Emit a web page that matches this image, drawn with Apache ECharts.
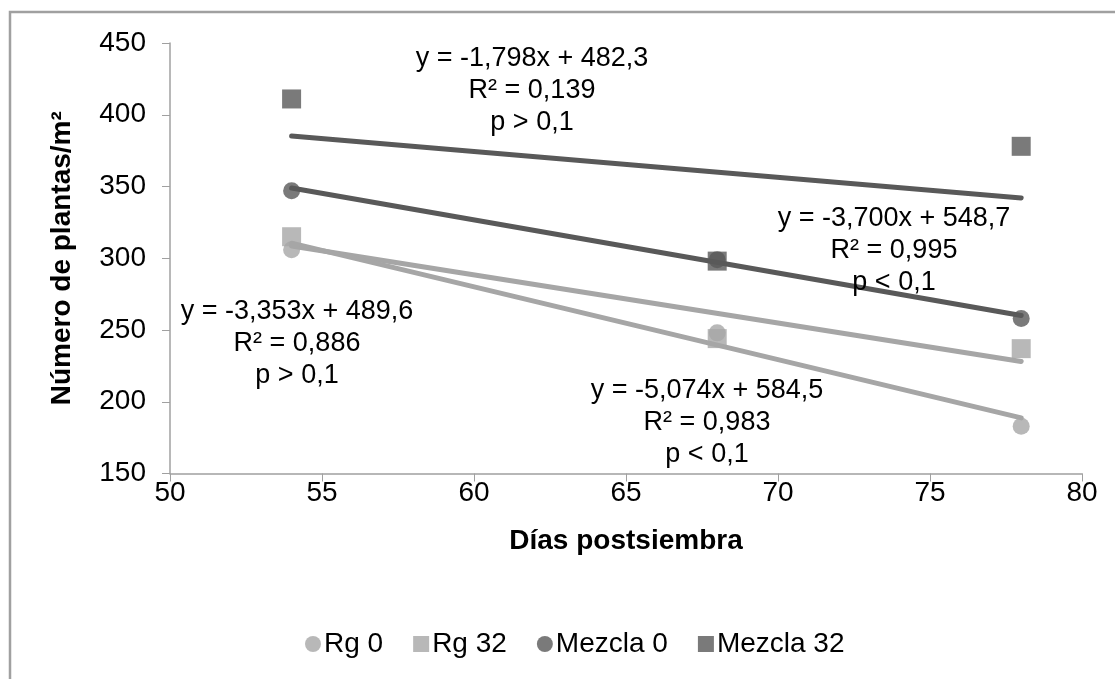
<!DOCTYPE html>
<html>
<head>
<meta charset="utf-8">
<script src="https://cdn.jsdelivr.net/npm/echarts@6/dist/echarts.min.js"></script>
<style>
html,body{margin:0;padding:0;background:#fff;}
#chart{width:1115px;height:679px;}
</style>
</head>
<body>
<div id="chart"></div>
<script>
// Data
const days = [54, 68, 78];
const rg0 = [306, 248, 183];
const rg32 = [315, 244, 237];
const mezcla0 = [347, 299, 258];
const mezcla32 = [411, 298, 378];

// Printed regression coefficients [slope, intercept]
const trendRg0 = [-5.074, 584.5];
const trendRg32 = [-3.353, 489.6];
const trendMezcla0 = [-3.700, 548.7];
const trendMezcla32 = [-1.798, 482.3];

const xTicks = [50, 55, 60, 65, 70, 75, 80];
const yTicks = [150, 200, 250, 300, 350, 400, 450];

const eqMezcla32 = ['y = -1,798x + 482,3', 'R² = 0,139', 'p > 0,1'];
const eqMezcla0 = ['y = -3,700x + 548,7', 'R² = 0,995', 'p < 0,1'];
const eqRg32 = ['y = -3,353x + 489,6', 'R² = 0,886', 'p > 0,1'];
const eqRg0 = ['y = -5,074x + 584,5', 'R² = 0,983', 'p < 0,1'];

const LIGHT = '#a6a6a6';
const DARK = '#595959';
const FONT = 'Liberation Sans, Arial, sans-serif';

function pts(vals) { return days.map((d, i) => [d, vals[i]]); }
function trend(c) {
  const x0 = days[0], x1 = days[days.length - 1];
  return [[x0, c[0] * x0 + c[1]], [x1, c[0] * x1 + c[1]]];
}
function trendSeries(c, color) {
  return {
    type: 'line', data: trend(c), symbol: 'none', silent: true,
    lineStyle: { color: color, width: 5, cap: 'round' }, z: 2
  };
}
function scatter(name, vals, symbol, size, color, z) {
  return {
    name: name, type: 'scatter', data: pts(vals), symbol: symbol, symbolSize: size,
    itemStyle: { color: color }, z: z
  };
}

const chart = echarts.init(document.getElementById('chart'), null, { renderer: 'canvas' });

function eqText(lines, cx, top) {
  return {
    type: 'text', x: 0, y: 0,
    style: {
      x: cx, y: top,
      text: lines.join('\n'), font: '27px ' + FONT, fill: '#000',
      align: 'center', verticalAlign: 'top', lineHeight: 32
    },
    z: 10
  };
}

const option = {
  animation: false,
  backgroundColor: '#fff',
  grid: { left: 170, right: 33, top: 43, bottom: 205.5 },
  xAxis: {
    type: 'value', min: 50, max: 80, interval: 5,
    name: 'Días postsiembra', nameLocation: 'middle', nameGap: 54,
    nameTextStyle: { fontFamily: FONT, fontSize: 28, fontWeight: 'bold', color: '#000' },
    axisLine: { show: true, lineStyle: { color: '#a0a0a0', width: 1.5 } },
    axisTick: { show: true, length: 8, lineStyle: { color: '#a0a0a0' } },
    axisLabel: { fontFamily: FONT, fontSize: 28, color: '#000', margin: 6 },
    splitLine: { show: false }
  },
  yAxis: {
    type: 'value', min: 150, max: 450, interval: 50,
    name: 'Número de plantas/m²', nameLocation: 'middle', nameGap: 94, nameRotate: 90,
    nameTextStyle: { fontFamily: FONT, fontSize: 28, fontWeight: 'bold', color: '#000' },
    axisLine: { show: true, lineStyle: { color: '#a0a0a0', width: 1.5 } },
    axisTick: { show: true, length: 8, lineStyle: { color: '#a0a0a0' } },
    axisLabel: { fontFamily: FONT, fontSize: 28, color: '#000', margin: 24 },
    splitLine: { show: false }
  },
  legend: {
    bottom: 16, left: 300, itemGap: 30, itemWidth: 16, itemHeight: 16,
    textStyle: { fontFamily: FONT, fontSize: 28, color: '#000', padding: [0, 0, 0, -2] },
    data: [
      { name: 'Rg 0', icon: 'circle' },
      { name: 'Rg 32', icon: 'rect' },
      { name: 'Mezcla 0', icon: 'circle' },
      { name: 'Mezcla 32', icon: 'rect' }
    ]
  },
  series: [
    trendSeries(trendRg32, LIGHT),
    trendSeries(trendRg0, LIGHT),
    trendSeries(trendMezcla0, DARK),
    trendSeries(trendMezcla32, DARK),
    scatter('Rg 0', rg0, 'circle', 17, LIGHT, 5),
    scatter('Rg 32', rg32, 'rect', 19, LIGHT, 6),
    scatter('Mezcla 0', mezcla0, 'circle', 17, DARK, 7),
    scatter('Mezcla 32', mezcla32, 'rect', 19, DARK, 8)
  ],
  graphic: [
    { type: 'polyline', shape: { points: [[10, 700], [10, 12], [1130, 12]] },
      style: { stroke: '#a0a0a0', lineWidth: 2.5, fill: null }, z: 0 },
    eqText(eqMezcla32, 532, 43),
    eqText(eqMezcla0, 894, 203),
    eqText(eqRg32, 297, 296),
    eqText(eqRg0, 707, 375)
  ]
};
chart.setOption(option);
</script>
</body>
</html>
